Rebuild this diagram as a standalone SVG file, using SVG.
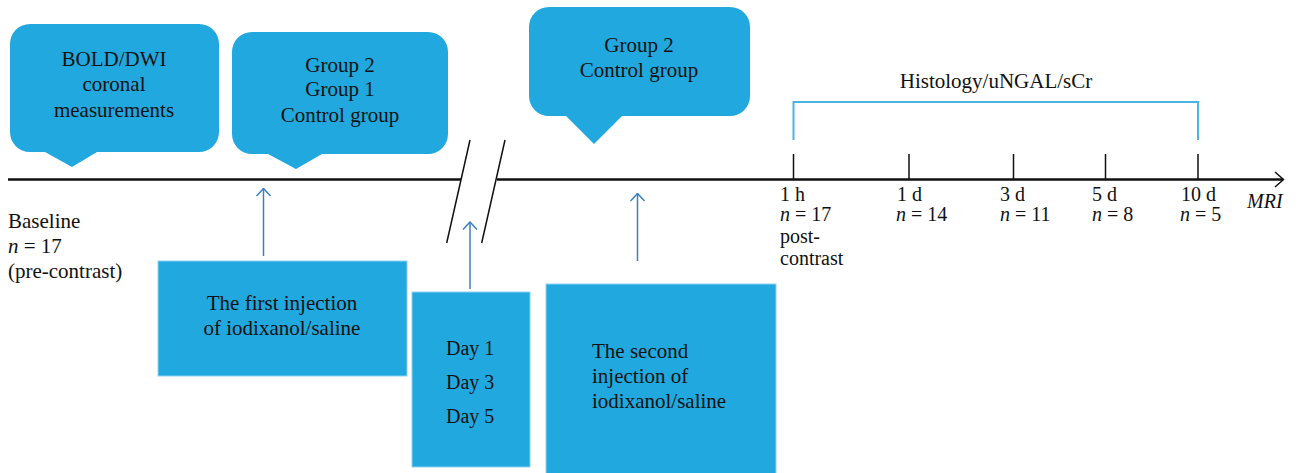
<svg xmlns="http://www.w3.org/2000/svg" width="1301" height="473" viewBox="0 0 1301 473">
<style>
.box{fill:#21a8de;}
.rbox{fill:#21a8de;stroke:#8fd2f1;stroke-width:1;}
.t{font-family:"Liberation Serif","Times New Roman",serif;font-size:21px;fill:#111;}
.s{font-family:"Liberation Serif","Times New Roman",serif;font-size:20px;fill:#111;}
.c{text-anchor:middle;}
.i{font-style:italic;}
.axis{stroke:#111;stroke-width:2.5;fill:none;}
.tick{stroke:#111;stroke-width:1.5;fill:none;}
.brk{stroke:#111;stroke-width:1.5;fill:none;}
.arr{stroke:#3a7fc3;stroke-width:1.5;fill:none;marker-end:url(#ah);}
.brkt{stroke:#4bb3e6;stroke-width:2;fill:none;}
</style>
<defs>
<marker id="ah" markerUnits="userSpaceOnUse" viewBox="-9 -8 10 16" refX="0" refY="0" markerWidth="10" markerHeight="16" orient="auto">
<path d="M-7.5,-7 L0,0 L-7.5,7" fill="none" stroke="#3a7fc3" stroke-width="1.5"/>
</marker>
</defs>
<rect width="1301" height="473" fill="#fff"/>

<g id="callout-bold">
<path class="box" d="M30,24 H199 A20,20 0 0 1 219,44 V132 A20,20 0 0 1 199,152 H97 L72,167 L45,152 H30 A20,20 0 0 1 10,132 V44 A20,20 0 0 1 30,24 Z"/>
<text class="t c" x="114" y="66">BOLD/DWI</text>
<text class="t c" x="114" y="91">coronal</text>
<text class="t c" x="114" y="117">measurements</text>
</g>

<g id="callout-groups1">
<path class="box" d="M252,32 H428 A20,20 0 0 1 448,52 V134 A20,20 0 0 1 428,154 H322 L296,169 L268,154 H252 A20,20 0 0 1 232,134 V52 A20,20 0 0 1 252,32 Z"/>
<text class="t c" x="340" y="72">Group 2</text>
<text class="t c" x="340" y="96">Group 1</text>
<text class="t c" x="340" y="122">Control group</text>
</g>

<g id="callout-groups2">
<path class="box" d="M549,7 H730 A20,20 0 0 1 750,27 V96 A20,20 0 0 1 730,116 H622 L594,144 L566,116 H549 A20,20 0 0 1 529,96 V27 A20,20 0 0 1 549,7 Z"/>
<text class="t c" x="639" y="52">Group 2</text>
<text class="t c" x="639" y="77">Control group</text>
</g>

<g id="box-first-injection">
<rect class="rbox" x="158" y="261" width="249" height="115"/>
<text class="t c" x="282" y="310">The first injection</text>
<text class="t c" x="282" y="335">of iodixanol/saline</text>
</g>

<g id="box-days">
<rect class="rbox" x="412" y="292" width="118" height="175"/>
<text class="s" x="446" y="355">Day 1</text>
<text class="s" x="446" y="389">Day 3</text>
<text class="s" x="446" y="423">Day 5</text>
</g>

<g id="box-second-injection">
<rect class="rbox" x="546" y="284" width="230" height="195"/>
<text class="t" x="592" y="358">The second</text>
<text class="t" x="592" y="383">injection of</text>
<text class="t" x="592" y="408">iodixanol/saline</text>
</g>

<g id="baseline-label">
<text class="t" x="8" y="228">Baseline</text>
<text class="t" x="8" y="253"><tspan class="i">n</tspan> = 17</text>
<text class="t" x="8" y="278">(pre-contrast)</text>
</g>

<g id="tick-labels">
<text class="s" x="780" y="201">1 h</text>
<text class="s" x="780" y="221"><tspan class="i">n</tspan> = 17</text>
<text class="s" x="780" y="243">post-</text>
<text class="s" x="780" y="265">contrast</text>
<text class="s" x="897" y="201">1 d</text>
<text class="s" x="896" y="221"><tspan class="i">n</tspan> = 14</text>
<text class="s" x="1000" y="201">3 d</text>
<text class="s" x="1000" y="221"><tspan class="i">n</tspan> = 11</text>
<text class="s" x="1092" y="201">5 d</text>
<text class="s" x="1092" y="221"><tspan class="i">n</tspan> = 8</text>
<text class="s" x="1181" y="201">10 d</text>
<text class="s" x="1180" y="221"><tspan class="i">n</tspan> = 5</text>
<text class="s i" x="1247" y="208">MRI</text>
</g>

<g id="histology">
<path class="brkt" d="M793.5,140 V102 H1198 V140"/>
<text class="t c" x="996" y="88">Histology/uNGAL/sCr</text>
</g>

<g id="connectors">
<path class="axis" d="M8,179.5 H461 M497,179.5 H1283"/>
<path class="tick" d="M1275,172 L1283.5,179.5 L1275,187"/>
<path class="tick" d="M793.5,154 V179 M909,154 V179 M1013.5,154 V179 M1105.5,154 V179 M1198,154 V179"/>
<path class="brk" d="M470,140 L446.7,243 M505,140 L481.7,243"/>
<path class="arr" d="M263.5,256 V188.5"/>
<path class="arr" d="M470,289 V222"/>
<path class="arr" d="M637.5,261 V193.5"/>
</g>
</svg>
